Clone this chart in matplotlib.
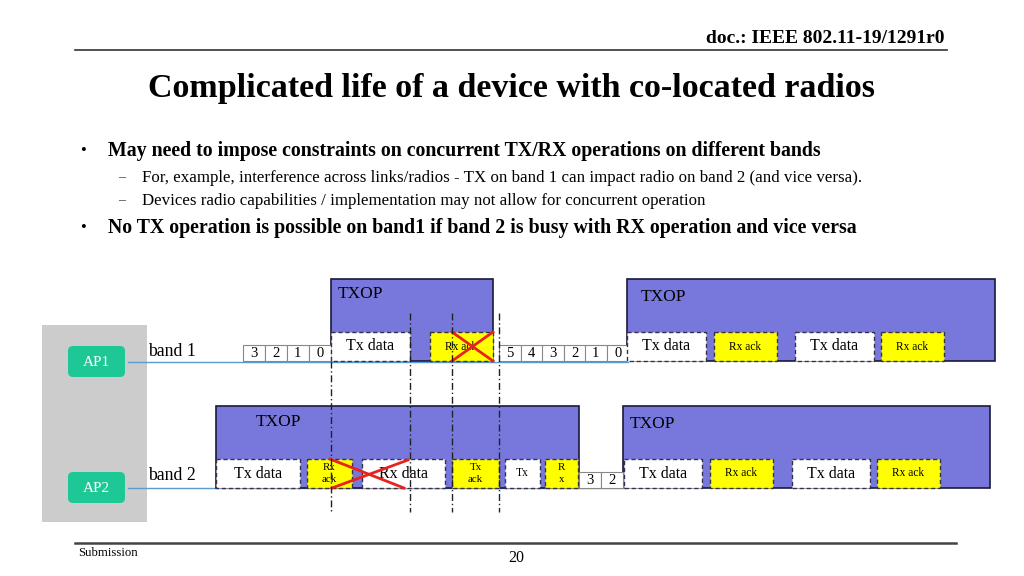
import matplotlib.pyplot as plt
from matplotlib.patches import Rectangle, FancyBboxPatch

plt.rcParams['font.family'] = ['Liberation Serif', 'DejaVu Serif']

doc_id = "doc.: IEEE 802.11-19/1291r0"
title = "Complicated life of a device with co-located radios"
bullets = [
    ("main", "May need to impose constraints on concurrent TX/RX operations on different bands"),
    ("sub", "For, example, interference across links/radios - TX on band 1 can impact radio on band 2 (and vice versa)."),
    ("sub", "Devices radio capabilities / implementation may not allow for concurrent operation"),
    ("main", "No TX operation is possible on band1 if band 2 is busy with RX operation and vice versa"),
]

# band 1 timeline (pixel time axis)
b1_txop_start = [331, 627]
b1_txop_end = [493, 995]
b1_frames = ["Tx data", "Rx ack", "Tx data", "Rx ack", "Tx data", "Rx ack"]
b1_start = [331, 430, 627, 714, 795, 881]
b1_end = [410, 493, 706, 777, 874, 944]
b1_count_labels = ["3", "2", "1", "0", "5", "4", "3", "2", "1", "0"]
b1_count_start = [243, 265, 287, 309, 499, 521, 542, 564, 585, 607]

# band 2 timeline
b2_txop_start = [216, 623]
b2_txop_end = [579, 990]
b2_frames = ["Tx data", "Rx\nack", "Rx data", "Tx\nack", "Tx", "R\nx",
             "Tx data", "Rx ack", "Tx data", "Rx ack"]
b2_start = [216, 307, 362, 452, 505, 545, 624, 710, 792, 877]
b2_end = [300, 352, 445, 499, 540, 578, 702, 773, 870, 940]
b2_count_labels = ["3", "2"]
b2_count_start = [579, 601]

sync_lines = [331, 410, 452, 499]

TXOP_C = "#7878dc"
YELLOW = "#ffff00"
LINE_C = "#5b9bd5"
GREEN = "#1ec896"

fig = plt.figure(figsize=(10.24, 5.76), dpi=100)
ax = fig.add_axes([0, 0, 1, 1])
ax.set_xlim(0, 1024)
ax.set_ylim(576, 0)
ax.axis("off")

# header / footer
ax.text(945, 43, doc_id, ha="right", va="baseline", fontsize=14, fontweight="bold")
ax.plot([75, 947], [50, 50], color="#333333", lw=1.2)
ax.text(512, 89, title, ha="center", va="center", fontsize=24.5, fontweight="bold")
ax.plot([75, 956], [543, 543], color="#444444", lw=1.8)
ax.text(78, 556, "Submission", ha="left", va="baseline", fontsize=9.2)
ax.text(516, 562, "20", ha="center", va="baseline", fontsize=11.5)

ys = [151, 178, 201, 228]
for (kind, txt), y in zip(bullets, ys):
    if kind == "main":
        ax.text(80, y, "\u2022", ha="left", va="center", fontsize=12)
        ax.text(108, y, txt, ha="left", va="center", fontsize=14.3, fontweight="bold")
    else:
        ax.text(118, y, "\u2013", ha="left", va="center", fontsize=10, color="#444444")
        ax.text(142, y, txt, ha="left", va="center", fontsize=12.2)

# device box with APs
ax.add_patch(Rectangle((42, 325), 105, 197, facecolor="#cccccc", edgecolor="none"))
for name, y in [("AP1", 346), ("AP2", 472)]:
    ax.add_patch(FancyBboxPatch((68, y), 57, 31, boxstyle="round,pad=0,rounding_size=5",
                                facecolor=GREEN, edgecolor="none"))
    ax.text(96.5, y + 16, name, ha="center", va="center", color="white", fontsize=11)

# band lines
ax.plot([128, 628], [362, 362], color=LINE_C, lw=1)
ax.plot([128, 625], [488, 488], color=LINE_C, lw=1)
ax.text(148, 352, "band 1", ha="left", va="center", fontsize=12.8)
ax.text(148, 476, "band 2", ha="left", va="center", fontsize=12.8)


def draw_band(base, txop_s, txop_e, labels, starts, ends, cnt_lab, cnt_s, txop_pos):
    top = base - 82
    for s, e, (tx, ty) in zip(txop_s, txop_e, txop_pos):
        ax.add_patch(Rectangle((s, top), e - s, 82, facecolor=TXOP_C,
                               edgecolor="#1a1a3a", lw=1.2, zorder=2))
        ax.text(s + tx, top + ty, "TXOP", ha="left", va="center", fontsize=12.5, zorder=3)
    for lab, s, e in zip(labels, starts, ends):
        yellow = lab.startswith("Rx ack") or lab in ("Rx\nack", "Tx\nack", "R\nx")
        ax.add_patch(Rectangle((s, base - 29), e - s, 29,
                               facecolor=YELLOW if yellow else "white",
                               edgecolor="#333344", lw=1, ls=(0, (3, 2)), zorder=4))
        if "data" in lab:
            fs = 11.5
        elif "\n" in lab:
            fs = 7.8
        else:
            fs = 8.3
        ax.text((s + e) / 2, base - 14.5, lab, ha="center", va="center", fontsize=fs,
                linespacing=1.3, zorder=5)
    for lab, s in zip(cnt_lab, cnt_s):
        ax.add_patch(Rectangle((s, base - 16), 21.5, 16, facecolor="white",
                               edgecolor="#888888", lw=0.8, zorder=3))
        ax.text(s + 10.75, base - 7.5, lab, ha="center", va="center", fontsize=10.5, zorder=4)


draw_band(361, b1_txop_start, b1_txop_end, b1_frames, b1_start, b1_end,
          b1_count_labels, b1_count_start, [(7, 15), (14, 18)])
draw_band(488, b2_txop_start, b2_txop_end, b2_frames, b2_start, b2_end,
          b2_count_labels, b2_count_start, [(40, 16), (7, 18)])

# red crosses on lost frames
red = "#e8231e"
ax.plot([452, 493], [332, 361], color=red, lw=2, zorder=6)
ax.plot([452, 493], [361, 332], color=red, lw=2, zorder=6)
ax.plot([330, 404], [459, 488], color=red, lw=2, zorder=6)
ax.plot([332, 408], [488, 460], color=red, lw=2, zorder=6)

# vertical dash-dot sync lines
for x in sync_lines:
    y0 = 361 if x == 331 else 313
    ax.plot([x, x], [y0, 512], color="#222222", lw=1, ls=(0, (5, 2, 1, 2)), zorder=7)

fig.savefig("out.png", dpi=100)
